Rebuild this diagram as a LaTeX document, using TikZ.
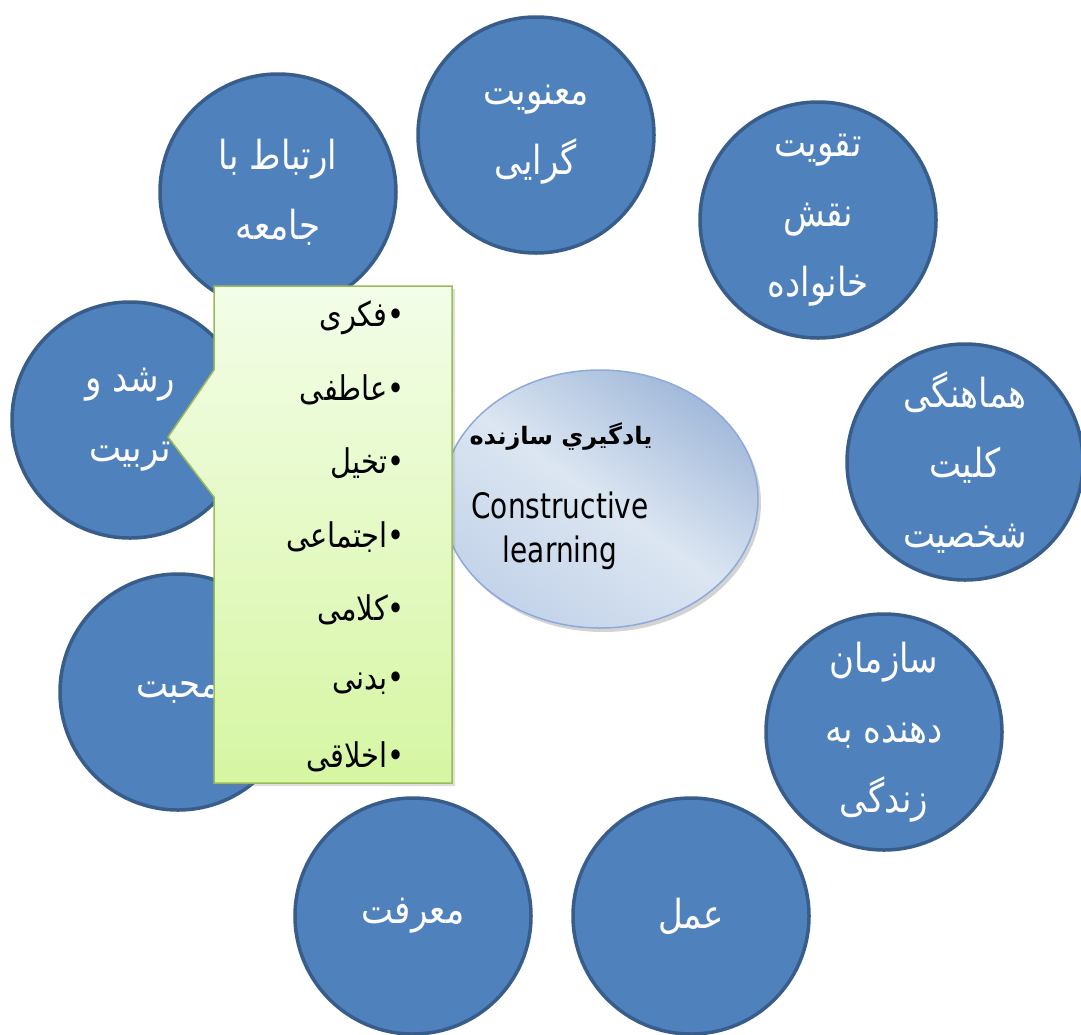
\documentclass[tikz,border=0pt]{standalone}
\usepackage{fontspec}
\setmainfont{DejaVu Sans}
\newfontfamily\arabicfont[Script=Arabic]{DejaVu Sans}
\newfontfamily\arabictall[Script=Arabic,FakeStretch=0.85]{DejaVu Sans}
\newfontfamily\latinfont[FakeStretch=0.8]{DejaVu Sans}
\TeXXeTstate=1
\usetikzlibrary{shapes.geometric,shadows}
\definecolor{circfill}{HTML}{4F81BD}
\definecolor{circline}{HTML}{385D8A}
\definecolor{ellmid}{HTML}{DCE6F2}
\definecolor{elltop}{HTML}{A2B9DA}
\definecolor{ellbot}{HTML}{C3D3E9}
\definecolor{elline}{HTML}{8EAADB}
\definecolor{boxtop}{HTML}{F3FDE8}
\definecolor{boxbot}{HTML}{D6F6A2}
\definecolor{boxline}{HTML}{9BBB59}
\tikzset{
  bubble/.style={circle, fill=circfill, draw=circline, line width=3.5pt,
    minimum size=236pt, inner sep=0pt, text=white, align=center,
    font=\arabictall\fontsize{40}{70}\selectfont},
  item/.style={anchor=east, inner sep=0pt, text=black,
    font=\arabictall\fontsize{34}{40}\selectfont}
}
\begin{document}
\begin{tikzpicture}[x=1pt,y=-1pt]
\useasboundingbox (0,0) rectangle (1081,1034);
% outer circles
\node[bubble] (c1) at (278,192) {\beginR ارتباط با\endR\\\beginR جامعه\endR};
\node[bubble] (c2) at (536,135) {\beginR معنویت\endR\\\beginR گرایی\endR};
\node[bubble] (c3) at (818,220) {\beginR تقویت\endR\\\beginR نقش\endR\\\beginR خانواده\endR};
\node[bubble] (c4) at (965,462) {\beginR هماهنگی\endR\\\beginR کلیت\endR\\\beginR شخصیت\endR};
\node[bubble] (c5) at (884,732) {\beginR سازمان\endR\\\beginR دهنده به\endR\\\beginR زندگی\endR};
\node[bubble] (c6) at (691,916) {\beginR عمل\endR};
\node[bubble] (c7) at (413,916) {\beginR معرفت\endR};
\node[bubble] (c8) at (178,692) {\beginR محبت\endR};
\node[bubble] (c9) at (130,420) {\beginR رشد و\endR\\\beginR تربیت\endR};
% centre ellipse
\node[ellipse, minimum width=316pt, minimum height=258pt, inner sep=0pt,
  draw=elline, line width=1.5pt,
  top color=elltop, bottom color=ellbot, middle color=ellmid, shading angle=-35,
  drop shadow={shadow xshift=3pt, shadow yshift=-4pt, opacity=0.35}] (core) at (600,499) {};
\node[font=\arabicfont\bfseries\fontsize{24}{28}\selectfont, inner sep=0pt] (fa) at (561,437) {\beginR یادگیري سازنده\endR};
\node[font=\latinfont\fontsize{35}{44}\selectfont, align=center, inner sep=0pt] (en) at (560,531) {Constructive\\learning};
% callout
\path[draw=boxline, line width=1.5pt, top color=boxtop, bottom color=boxbot,
  drop shadow={shadow xshift=3pt, shadow yshift=-3pt, opacity=0.25}]
  (214,286) -- (452,286) -- (452,783) -- (214,783) -- (214,497) -- (168,437) -- (214,370) -- cycle;
\node[item] (i1) at (405,318) {\beginR•فکری\endR};
\node[item] (i2) at (405,390) {\beginR•عاطفی\endR};
\node[item] (i3) at (405,463) {\beginR•تخیل\endR};
\node[item] (i4) at (405,537) {\beginR•اجتماعی\endR};
\node[item] (i5) at (405,610) {\beginR•کلامی\endR};
\node[item] (i6) at (405,683) {\beginR•بدنی\endR};
\node[item] (i7) at (405,757) {\beginR•اخلاقی\endR};
\end{tikzpicture}
\end{document}
